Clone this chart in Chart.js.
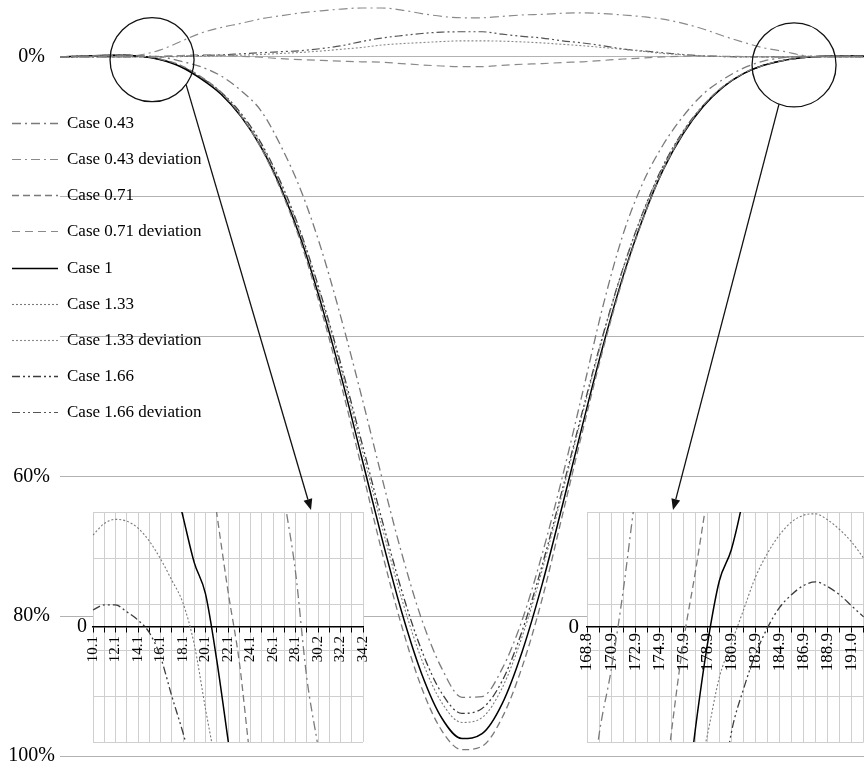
<!DOCTYPE html>
<html>
<head>
<meta charset="utf-8">
<script src="https://cdn.jsdelivr.net/npm/chart.js@4.4.1/dist/chart.umd.min.js"></script>
<style>
  html, body { margin:0; padding:0; background:#fff; overflow:hidden; }
  #wrap { position:relative; width:864px; height:766px; overflow:hidden; }
  canvas { position:absolute; display:block; }
</style>
</head>
<body>
<div id="wrap">
  <canvas id="mainChart" width="864" height="766" style="left:0;top:0"></canvas>
  <canvas id="insetLeft" width="325" height="250" style="left:60px;top:500px"></canvas>
  <canvas id="insetRight" width="325" height="250" style="left:560px;top:500px"></canvas>
</div>
<script>
// ---------------- DATA (main chart, percent) ----------------
const xValues = [0,5,10,15,20,25,30,35,40,45,50,55,60,65,70,75,80,85,90,95,100,105,110,115,120,125,130,135,140,145,150,155,160,165,170,175,180,185,190,195,200];

const case043 = [0,-0.1,-0.15,-0.2,-0.15,0.0,0.6,1.4,2.7,4.8,7.7,12.8,19.2,27.5,37.5,48.5,60.0,71.0,80.5,87.5,91.6,91.5,87.5,80.5,71.0,60.0,48.0,35.8,25.5,18.0,12.6,8.5,5.3,3.2,1.6,0.6,0.1,-0.1,-0.1,-0.1,-0.05];
const case043Dev = [0,0,0,0,-0.3,-1.0,-2.2,-3.4,-4.2,-4.8,-5.45,-5.9,-6.3,-6.6,-6.85,-7.0,-7.0,-6.7,-6.2,-5.8,-5.6,-5.6,-5.8,-6.0,-6.1,-6.25,-6.3,-6.2,-6.0,-5.75,-5.4,-4.8,-4.0,-3.0,-2.1,-1.3,-0.8,-0.2,0,0,0];
const case071 = [0,-0.1,-0.2,-0.25,-0.15,0.3,1.2,2.8,5.05,8.4,13.0,19.1,26.7,36.2,47.0,58.7,70.6,81.4,90.3,96.4,99.1,98.6,94.5,87.2,77.4,65.5,53.5,42.0,31.8,23.25,16.2,10.9,6.95,4.2,2.35,1.2,0.5,0.1,-0.1,-0.15,-0.1];
const case071Dev = [0,0,0,0,-0.05,-0.1,-0.2,-0.3,-0.25,-0.1,0.05,0.25,0.4,0.5,0.6,0.7,0.75,0.95,1.15,1.3,1.4,1.4,1.2,1.05,0.95,0.8,0.7,0.5,0.3,0.15,0.0,-0.1,-0.15,-0.1,-0.05,0,0,0,0,0,0];
const case1 = [0,-0.1,-0.2,-0.25,-0.1,0.4,1.4,3.1,5.3,8.5,12.9,18.8,26.2,35.4,45.8,57.2,68.7,79.4,88.3,94.6,97.5,96.8,92.5,85.0,75.3,64.1,52.6,41.5,31.5,23.1,16.2,11.0,7.1,4.3,2.4,1.2,0.5,0.1,-0.1,-0.15,-0.1];
const case133 = [0,-0.1,-0.2,-0.25,-0.1,0.4,1.35,3.0,5.15,8.25,12.55,18.3,25.55,34.55,44.7,55.85,67.0,77.5,86.25,92.4,95.2,94.5,90.25,82.85,73.3,62.3,51.0,40.15,30.4,22.3,15.7,10.7,6.95,4.25,2.4,1.2,0.5,0.1,-0.1,-0.15,-0.1];
const case133Dev = [0,0,0,0,0,0,-0.05,-0.1,-0.15,-0.25,-0.35,-0.5,-0.65,-0.85,-1.1,-1.35,-1.7,-1.9,-2.05,-2.2,-2.3,-2.3,-2.25,-2.15,-2.0,-1.8,-1.6,-1.35,-1.1,-0.8,-0.5,-0.3,-0.15,-0.05,0,0,0,0,0,0,0];
const case166 = [0,-0.1,-0.2,-0.25,-0.1,0.35,1.3,2.9,5.0,8.05,12.3,18.05,25.3,34.2,44.2,55.0,66.0,76.35,84.95,91.05,93.9,93.2,89.25,82.05,72.6,61.8,50.6,39.9,30.35,22.25,15.6,10.65,6.95,4.25,2.4,1.2,0.5,0.1,-0.1,-0.15,-0.1];
const case166Dev = [0,0,0,0,0,-0.05,-0.1,-0.2,-0.3,-0.45,-0.6,-0.75,-0.9,-1.2,-1.6,-2.2,-2.7,-3.05,-3.35,-3.55,-3.6,-3.6,-3.25,-2.95,-2.7,-2.3,-2.0,-1.6,-1.15,-0.85,-0.6,-0.35,-0.15,-0.05,0,0,0,0,0,0,0];

const yTickValues = [0,20,40,60,80,100];
const yTickLabels = ['0%','','','60%','80%','100%'];

// ---------------- DATA (zoom insets) ----------------
const leftInsetLabels = ['10.1','11.1','12.1','13.1','14.1','15.1','16.1','17.1','18.1','19.1','20.1','21.1','22.1','23.1','24.1','25.1','26.1','27.1','28.1','29.2','30.2','31.2','32.2','33.2','34.2'];
const leftZoom043 = [null,null,null,null,null,null,null,null,null,null,null,null,null,null,null,null,-4.5,-2.8,-1.2,1.1,2.6,4.2,null,null,null];
const leftZoom071 = [null,null,null,null,null,null,null,null,null,null,-4.2,-2.47,-0.78,0.75,2.9,4.5,null,null,null,null,null,null,null,null,null];
const leftZoom1   = [null,null,null,null,null,null,null,-3.4,-2.4,-1.4,-0.72,0.72,2.45,4.2,null,null,null,null,null,null,null,null,null,null,null];
const leftZoom133 = [-2.0,-2.25,-2.34,-2.3,-2.15,-1.87,-1.48,-1.02,-0.52,0.38,1.78,3.1,4.5,null,null,null,null,null,null,null,null,null,null,null,null];
const leftZoom166 = [-0.37,-0.48,-0.48,-0.33,-0.15,0.12,0.65,1.5,2.3,3.2,4.2,null,null,null,null,null,null,null,null,null,null,null,null,null,null];

const rightInsetLabels = ['168.8','169.9','170.9','171.9','172.9','173.9','174.9','175.9','176.9','177.9','178.9','179.9','180.9','181.9','182.9','183.9','184.9','185.9','186.9','187.9','188.9','190.0','191.0','192.0'];
const rightZoom043 = [4.5,2.35,0.95,-0.77,-2.8,-4.5,null,null,null,null,null,null,null,null,null,null,null,null,null,null,null,null,null,null];
const rightZoom071 = [null,null,null,null,null,null,4.6,2.33,0.35,-1.18,-2.85,-4.6,null,null,null,null,null,null,null,null,null,null,null,null];
const rightZoom1   = [null,null,null,null,null,null,null,null,4.4,2.24,0.4,-1.0,-1.68,-2.8,-4.2,null,null,null,null,null,null,null,null,null];
const rightZoom133 = [null,null,null,null,null,null,null,null,null,3.5,2.36,1.1,0.36,-0.36,-1.08,-1.6,-2.0,-2.28,-2.43,-2.46,-2.33,-2.12,-1.85,-1.5];
const rightZoom166 = [null,null,null,null,null,null,null,null,null,null,null,4.0,2.3,1.36,0.6,0.02,-0.42,-0.7,-0.9,-0.98,-0.88,-0.7,-0.46,-0.22];

const insetYTicks = [-2.5,-1.5,-0.5,0,0.5,1.5,2.5];

// ---------------- STYLES ----------------
const SERIF = '"Liberation Serif", "Times New Roman", serif';
const styles = {
  c043: {borderColor:'#7a7a7a', borderDash:[9,4,2,4], borderWidth:1.3},
  d043: {borderColor:'#8a8a8a', borderDash:[9,4,2,4], borderWidth:1.2},
  c071: {borderColor:'#7a7a7a', borderDash:[7,4], borderWidth:1.3},
  d071: {borderColor:'#8a8a8a', borderDash:[8,5], borderWidth:1.2},
  c1:   {borderColor:'#000000', borderDash:[], borderWidth:1.5},
  c133: {borderColor:'#7a7a7a', borderDash:[2,2], borderWidth:1.1},
  d133: {borderColor:'#8a8a8a', borderDash:[2,2], borderWidth:1.1},
  c166: {borderColor:'#3c3c3c', borderDash:[8,3,2,3,2,3], borderWidth:1.3},
  d166: {borderColor:'#555555', borderDash:[8,3,2,3,2,3], borderWidth:1.2}
};

const pts = arr => xValues.map((x, i) => ({x: x, y: arr[i]}));
const mk = (label, arr, st) => Object.assign({label: label, data: pts(arr), fill:false, pointRadius:0}, st);

const mainDatasets = [
  mk('Case 0.43', case043, styles.c043),
  mk('Case 0.43 deviation', case043Dev, styles.d043),
  mk('Case 0.71', case071, styles.c071),
  mk('Case 0.71 deviation', case071Dev, styles.d071),
  mk('Case 1', case1, styles.c1),
  mk('Case 1.33', case133, styles.c133),
  mk('Case 1.33 deviation', case133Dev, styles.d133),
  mk('Case 1.66', case166, styles.c166),
  mk('Case 1.66 deviation', case166Dev, styles.d166)
];

// custom legend drawn at the left over the axis area
const legendPlugin = {
  id: 'leftLegend',
  afterDraw(chart) {
    const ctx = chart.ctx;
    const y0 = 122.7, step = 36.2;
    ctx.save();
    chart.data.datasets.forEach((ds, i) => {
      const y = Math.round(y0 + step * i) + 0.5;
      ctx.beginPath();
      ctx.setLineDash(ds.borderDash || []);
      ctx.strokeStyle = ds.borderColor;
      ctx.lineWidth = ds.borderWidth;
      ctx.moveTo(12, y);
      ctx.lineTo(58, y);
      ctx.stroke();
      ctx.setLineDash([]);
      ctx.fillStyle = '#000';
      ctx.font = '17px ' + SERIF;
      ctx.textBaseline = 'middle';
      ctx.textAlign = 'left';
      ctx.fillText(ds.label, 67, y);
    });
    ctx.restore();
  }
};

// magnifier circles + arrows pointing to insets
const zoomMarks = [
  {cx: 22.9, cy: 0.4, r: 42, angle: 36, tipX: 311, tipY: 510},
  {cx: 182.6, cy: 1.15, r: 42, angle: 111, tipX: 673, tipY: 510}
];
const decorPlugin = {
  id: 'decor',
  afterDatasetsDraw(chart) {
    const ctx = chart.ctx, xs = chart.scales.x, ys = chart.scales.y;
    ctx.save();
    ctx.strokeStyle = '#111';
    ctx.fillStyle = '#111';
    ctx.lineWidth = 1.3;
    zoomMarks.forEach(m => {
      const cx = xs.getPixelForValue(m.cx), cy = ys.getPixelForValue(m.cy);
      ctx.beginPath();
      ctx.arc(cx, cy, m.r, 0, Math.PI * 2);
      ctx.stroke();
      const a = m.angle * Math.PI / 180;
      const sx = cx + m.r * Math.cos(a), sy = cy + m.r * Math.sin(a);
      const dx = m.tipX - sx, dy = m.tipY - sy, L = Math.hypot(dx, dy);
      const ux = dx / L, uy = dy / L;
      const bx = m.tipX - ux * 11, by = m.tipY - uy * 11;
      ctx.beginPath();
      ctx.moveTo(sx, sy);
      ctx.lineTo(bx, by);
      ctx.stroke();
      ctx.beginPath();
      ctx.moveTo(m.tipX, m.tipY);
      ctx.lineTo(bx - uy * 4.5, by + ux * 4.5);
      ctx.lineTo(bx + uy * 4.5, by - ux * 4.5);
      ctx.closePath();
      ctx.fill();
    });
    ctx.restore();
  }
};

new Chart(document.getElementById('mainChart'), {
  type: 'line',
  data: { datasets: mainDatasets },
  options: {
    responsive: false,
    animation: false,
    layout: { padding: { top: 1, bottom: 10, left: 0, right: 0 } },
    plugins: { legend: { display: false }, tooltip: { enabled: false } },
    elements: { point: { radius: 0 }, line: { cubicInterpolationMode: 'monotone' } },
    scales: {
      x: { type: 'linear', min: 0, max: 200, display: false },
      y: {
        reverse: true, min: -8, max: 100,
        afterBuildTicks: s => { s.ticks = yTickValues.map(v => ({ value: v })); },
        afterFit: s => { s.width = 60; s.paddingTop = 0; s.paddingBottom = 0; },
        grid: { color: '#b2b2b2', lineWidth: 1, drawTicks: false },
        border: { display: false },
        ticks: {
          callback: (v) => { const k = yTickValues.indexOf(v); return k >= 0 ? yTickLabels[k] : ''; },
          font: { family: SERIF, size: 20 }, color: '#000', padding: 5, crossAlign: 'center'
        }
      }
    }
  },
  plugins: [decorPlugin, legendPlugin]
});

// ---------------- INSETS ----------------
const whiteBg = {
  id: 'whiteBg',
  beforeDraw(chart) {
    const a = chart.chartArea, ctx = chart.ctx;
    ctx.save();
    ctx.fillStyle = '#fff';
    ctx.fillRect(a.left, a.top, a.right - a.left, a.bottom - a.top);
    ctx.restore();
  }
};

function insetChart(id, labels, series, opt) {
  const mkI = (arr, st) => Object.assign({ data: arr, fill: false, pointRadius: 0, spanGaps: false }, st);
  return new Chart(document.getElementById(id), {
    type: 'line',
    data: {
      labels: labels,
      datasets: [
        mkI(series[0], styles.c043),
        mkI(series[1], styles.c071),
        mkI(series[2], styles.c1),
        mkI(series[3], styles.c133),
        mkI(series[4], styles.c166)
      ]
    },
    options: {
      responsive: false,
      animation: false,
      layout: { padding: opt.padding },
      plugins: { legend: { display: false }, tooltip: { enabled: false } },
      elements: { point: { radius: 0 }, line: { cubicInterpolationMode: 'monotone' } },
      scales: {
        x: {
          type: 'category', position: { y: 0 }, offset: false,
          grid: { color: '#cfcfcf', tickColor: '#000', tickLength: 5, offset: false, lineWidth: 1 },
          border: { color: '#000', width: 1.5 },
          ticks: {
            autoSkip: false, minRotation: 90, maxRotation: 90, padding: opt.labelPad,
            font: { family: SERIF, size: opt.xFont }, color: '#000',
            callback: (v, i) => (i % 2 === 0 ? labels[i] : '')
          }
        },
        y: {
          reverse: true, min: -2.5, max: 2.5,
          afterBuildTicks: s => { s.ticks = insetYTicks.map(v => ({ value: v })); },
          afterFit: s => { s.width = opt.yWidth; s.paddingTop = 0; s.paddingBottom = 0; },
          grid: { color: c => (c.tick && c.tick.value === 0 ? 'rgba(0,0,0,0)' : '#cfcfcf'), drawTicks: false },
          border: { display: false },
          ticks: {
            callback: v => (v === 0 ? '0' : ''), padding: opt.yPad,
            font: { family: SERIF, size: opt.yFont }, color: '#000'
          }
        }
      }
    },
    plugins: [whiteBg]
  });
}

insetChart('insetLeft', leftInsetLabels,
  [leftZoom043, leftZoom071, leftZoom1, leftZoom133, leftZoom166],
  { padding: { top: 12, bottom: 8, left: 0, right: 7 }, yWidth: 33, yPad: 6, yFont: 20, xFont: 15, labelPad: 4 });

insetChart('insetRight', rightInsetLabels,
  [rightZoom043, rightZoom071, rightZoom1, rightZoom133, rightZoom166],
  { padding: { top: 12, bottom: 8, left: 0, right: 17 }, yWidth: 27, yPad: 8, yFont: 21, xFont: 17, labelPad: 1 });
</script>
</body>
</html>
